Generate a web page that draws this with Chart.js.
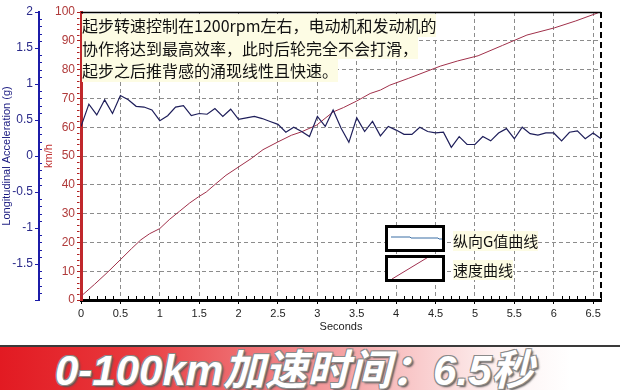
<!DOCTYPE html>
<html><head><meta charset="utf-8">
<script src="https://cdn.jsdelivr.net/npm/chart.js@4.4.1/dist/chart.umd.min.js"></script>
<style>
html,body{margin:0;padding:0;background:#fff;}
#wrap{position:relative;width:620px;height:390px;overflow:hidden;background:#fff;}
#c{position:absolute;left:0;top:0;}
.note{position:absolute;left:82px;top:14px;font-family:"Noto Sans CJK SC";font-size:16px;line-height:22.5px;color:#111;}
.note div{background:#fdfce4;width:fit-content;}
.lg{position:absolute;left:385px;width:54px;height:21px;border:3px solid #000;background:#fff;}
.lg svg{position:absolute;left:0;top:0;}
.lt{position:absolute;left:453px;font-family:"Noto Sans CJK SC";font-size:15px;line-height:20px;background:#fdfce4;color:#111;}
.banner{position:absolute;left:0;top:345px;width:620px;height:45px;border-top:2px solid #3a3a3a;
 background:linear-gradient(90deg,#e21a22 0%,#e8373b 20%,#f07f82 45%,#f8c4c5 65%,#fdf0f0 80%,#ffffff 92%);}
.btext{position:absolute;left:55px;top:3px;font-family:"Liberation Sans","Noto Sans CJK SC";font-weight:bold;font-style:italic;font-size:42px;line-height:42px;color:#fff;white-space:nowrap;
 text-shadow:-1px -1px 0 #8a8a8a,1px -1px 0 #8a8a8a,-1px 1px 0 #8a8a8a,1px 1px 0 #8a8a8a,2px 2px 2px #555;}
</style></head>
<body><div id="wrap">
<canvas id="c" width="620" height="340"></canvas>
<div class="note"><div>起步转速控制在1200rpm左右，电动机和发动机的</div><div>协作将达到最高效率，此时后轮完全不会打滑，</div><div>起步之后推背感的涌现线性且快速。</div></div>
<div class="lg" style="top:225px"><svg width="54" height="21"><polyline points="3,9 22,9 23,10 50,10 51,11 54,11" fill="none" stroke="#3a6ea5" stroke-width="1"/></svg></div>
<div class="lg" style="top:255px"><svg width="54" height="21"><line x1="4" y1="21" x2="42" y2="-2" stroke="#a03050" stroke-width="1"/></svg></div>
<div class="lt" style="top:231px">纵向G值曲线</div>
<div class="lt" style="top:260px">速度曲线</div>
<div class="banner"><div class="btext">0-100km加速时间：6.5秒</div></div>
</div>
<script>
const xTickValues = [0,0.5,1,1.5,2,2.5,3,3.5,4,4.5,5,5.5,6,6.5];
const gTimes = [0,0.1,0.2,0.3,0.4,0.5,0.6,0.7,0.8,0.9,1.0,1.1,1.2,1.3,1.4,1.5,1.6,1.7,1.8,1.9,2.0,2.1,2.2,2.3,2.4,2.5,2.6,2.7,2.8,2.9,3.0,3.1,3.2,3.3,3.4,3.5,3.6,3.7,3.8,3.9,4.0,4.1,4.2,4.3,4.4,4.5,4.6,4.7,4.8,4.9,5.0,5.1,5.2,5.3,5.4,5.5,5.6,5.7,5.8,5.9,6.0,6.1,6.2,6.3,6.4,6.5,6.6];
const gValues = [0.41,0.72,0.57,0.78,0.59,0.84,0.78,0.69,0.68,0.64,
 0.49,0.56,0.68,0.70,0.56,0.59,0.58,0.66,0.55,0.65,
 0.51,0.53,0.55,0.52,0.48,0.44,0.33,0.40,0.34,0.27,
 0.55,0.41,0.64,0.39,0.19,0.53,0.34,0.48,0.28,0.41,
 0.36,0.30,0.30,0.40,0.34,0.32,0.33,0.12,0.27,0.16,
 0.16,0.27,0.21,0.32,0.38,0.24,0.40,0.31,0.29,0.32,
 0.32,0.21,0.33,0.35,0.24,0.32,0.24];
const speedTimes = [0,0.17,0.34,0.5,0.64,0.76,0.87,1.0,1.12,1.25,1.38,1.49,1.59,1.7,1.84,2.0,2.16,2.31,2.5,2.67,2.8,2.99,3.2,3.33,3.5,3.67,3.8,3.92,4.16,4.56,4.78,5.04,5.35,5.66,6.01,6.28,6.56];
const speedValues = [1.3,5.4,9.7,14,17.8,20.9,23,24.8,27.9,30.8,33.7,35.8,37.5,40.1,43.3,46.2,49.1,52.2,54.9,57.2,58.4,60.7,65.3,66.8,69.1,71.7,72.9,74.6,77.0,81.2,83.0,84.8,88.4,92.0,94.5,96.9,99.7];

const framePlugin = {
  id:'frame',
  afterDraw(chart){
    const {ctx, chartArea:a, scales} = chart;
    ctx.save();
    ctx.strokeStyle='#000'; ctx.lineWidth=1.5;
    ctx.beginPath(); ctx.moveTo(a.left, a.top+0.5); ctx.lineTo(a.right, a.top+0.5); ctx.stroke();
    ctx.setLineDash([6,4]); ctx.lineWidth=2;
    ctx.beginPath(); ctx.moveTo(a.right, a.top); ctx.lineTo(a.right, a.bottom); ctx.stroke();
    ctx.setLineDash([]);
    ctx.lineWidth=1;
    const sx = scales.x;
    ctx.strokeStyle='#000';
    for(let i=1;i<=66;i++){ if(i%5===0) continue;
      const px=Math.round(sx.getPixelForValue(i/10))+0.5;
      ctx.beginPath(); ctx.moveTo(px,a.bottom-1); ctx.lineTo(px,a.bottom-4); ctx.stroke(); }
    const ss = scales.ySpeed;
    ctx.strokeStyle='#b02020';
    for(let v=2;v<100;v+=2){ if(v%10===0) continue;
      const py=Math.round(ss.getPixelForValue(v))+0.5;
      ctx.beginPath(); ctx.moveTo(ss.right-1.5,py); ctx.lineTo(ss.right-4,py); ctx.stroke(); }
    const sg = scales.yG;
    ctx.strokeStyle='#1c1ca8';
    for(let i=-19;i<20;i++){ if(i%5===0) continue;
      const py=Math.round(sg.getPixelForValue(i/10))+0.5;
      ctx.beginPath(); ctx.moveTo(sg.right,py); ctx.lineTo(sg.right+3,py); ctx.stroke(); }
    ctx.restore();
  }
};

const hideEdge = (vals, col) => c => (c.tick && vals.includes(c.tick.value)) ? 'rgba(0,0,0,0)' : col;

new Chart(document.getElementById('c'), {
  type:'line',
  data:{datasets:[
    {label:'纵向G值曲线', data:gTimes.map((t,i)=>({x:t,y:gValues[i]})), yAxisID:'yG', borderColor:'#1e1e5a', borderWidth:1.2, pointRadius:0, tension:0},
    {label:'速度曲线', data:speedTimes.map((t,i)=>({x:t,y:speedValues[i]})), yAxisID:'ySpeed', borderColor:'#a0304a', borderWidth:1, pointRadius:0, tension:0}
  ]},
  options:{
    responsive:false, animation:false, devicePixelRatio:1,
    layout:{padding:{top:12,right:19,left:0,bottom:0}},
    plugins:{legend:{display:false},tooltip:{enabled:false}},
    scales:{
      x:{type:'linear',position:'bottom',min:0,max:6.6,
        afterBuildTicks:s=>{s.ticks=xTickValues.map(v=>({value:v}));},
        afterFit:s=>{s.height=40;},
        ticks:{color:'#222',font:{family:'Liberation Sans',size:11},padding:3,maxRotation:0,callback:v=>String(v)},
        grid:{color:hideEdge([0],'#8c8c8c'),lineWidth:1,tickLength:4,tickColor:'#000'},
        border:{color:'#000',width:3,dash:[4,3]},
        title:{display:true,text:'Seconds',color:'#222',font:{family:'Liberation Sans',size:11},padding:{top:0,bottom:6}}
      },
      yG:{type:'linear',position:'left',min:-2,max:2,weight:1,
        afterBuildTicks:s=>{s.ticks=[-2,-1.5,-1,-0.5,0,0.5,1,1.5,2].map(v=>({value:v}));},
        afterFit:s=>{s.width=39;},
        ticks:{color:'#2a2a8a',font:{family:'Liberation Sans',size:12},padding:2,callback:v=>v===-2?'':String(v)},
        grid:{drawOnChartArea:false,tickLength:4,tickColor:'#1c1ca8'},
        border:{color:'#1c1ca8',width:2},
        title:{display:true,text:'Longitudinal Acceleration (g)',color:'#1a1a80',font:{family:'Liberation Sans',size:11},padding:{top:0,bottom:0}}
      },
      ySpeed:{type:'linear',position:'left',min:0,max:100,weight:0,
        afterBuildTicks:s=>{s.ticks=[0,10,20,30,40,50,60,70,80,90,100].map(v=>({value:v}));},
        afterFit:s=>{s.width=42;},
        ticks:{color:'#b03a3a',font:{family:'Liberation Sans',size:12},padding:2},
        grid:{color:hideEdge([0,100],'#8c8c8c'),lineWidth:1,tickLength:4,tickColor:'#b02020'},
        border:{color:'#c0282c',width:3,dash:[4,3]},
        title:{display:true,text:'km/h',color:'#c03030',font:{family:'Liberation Sans',size:11},padding:{top:3,bottom:0}}
      }
    }
  },
  plugins:[framePlugin]
});
</script>
</body></html>
